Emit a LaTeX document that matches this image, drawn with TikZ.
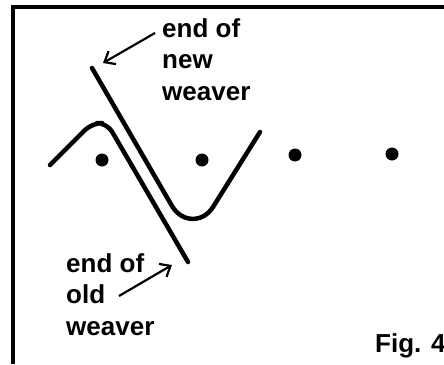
\documentclass[tikz,border=0pt]{standalone}
\usepackage{fontspec}
\setmainfont{Liberation Sans}
\usetikzlibrary{arrows.meta}

\begin{document}
\begin{tikzpicture}[x=1pt, y=-1pt,
    weaver/.style={line width=4.5pt, line cap=round, line join=round},
    peg/.style={circle, fill=black, inner sep=0pt, minimum size=13pt},
    lbltext/.style={font=\fontsize{26}{31.5}\selectfont\bfseries, align=left, inner sep=0pt, anchor=base west},
    callout/.style={line width=2.2pt, -{Straight Barb[length=9pt, width=15pt]}},
]
  \useasboundingbox (0,0) rectangle (444,364);

  % frame
  \draw[line width=3.5pt] (13,364) -- (13,7) -- (444,7);

  % pegs
  \foreach \n/\x/\y in {1/102/160, 2/202/160, 3/295/155, 4/392/154}
    \node[peg] (peg\n) at (\x,\y) {};

  % new weaver and old weaver
  \draw[weaver] (92,68) coordinate (newend) -- (172,206) .. controls (182,223) and (203,223) .. (213,207) -- (260,132);
  \draw[weaver, rounded corners=10pt] (50,165) -- (92,123) -- (107,123) -- (188,262) coordinate (oldend);

  % labels (base = last line)
  \node[lbltext] (newlbl) at (162,100) {end of\\new\\weaver};
  \node[lbltext] (oldlbl) at (66,335) {end of\\old\\weaver};
  \node[lbltext] (figlbl) at (375,352) {Fig. 4};

  \draw[callout] ([shift={(-7,-67)}]newlbl.base west) -- ([shift={(11,-5)}]newend);
  \draw[callout] ([shift={(53,-39)}]oldlbl.base west) -- ([shift={(-16,3)}]oldend);
\end{tikzpicture}
\end{document}
